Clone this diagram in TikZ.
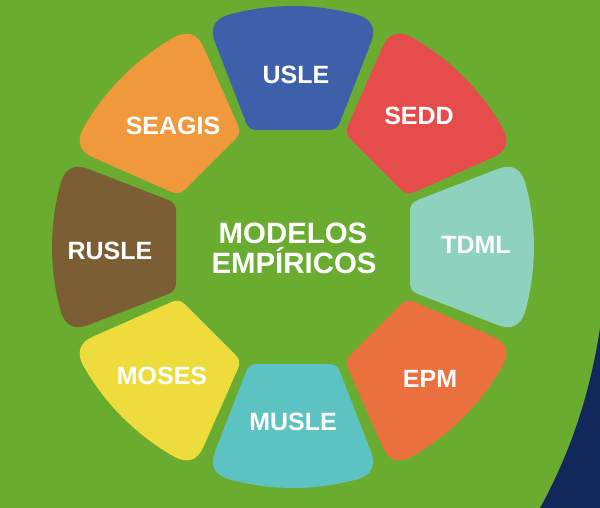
\documentclass[tikz,border=0pt]{standalone}
\usepackage{fontspec}
\setmainfont{Liberation Sans}
\begin{document}
\definecolor{bggreen}{RGB}{106,172,47}
\definecolor{navy}{RGB}{18,40,90}
\definecolor{cusle}{RGB}{62,95,170}
\definecolor{csedd}{RGB}{230,76,76}
\definecolor{ctdml}{RGB}{142,210,190}
\definecolor{cepm}{RGB}{234,112,62}
\definecolor{cmusle}{RGB}{92,194,194}
\definecolor{cmoses}{RGB}{238,220,60}
\definecolor{crusle}{RGB}{124,94,52}
\definecolor{cseagis}{RGB}{240,152,60}
\begin{tikzpicture}[x=0.5pt,y=-0.5pt,
  lbl/.style={text=white,inner sep=0pt,font=\fontsize{12.5}{13}\selectfont\bfseries},
  ttl/.style={text=white,inner sep=0pt,anchor=base,font=\fontsize{14.7}{15}\selectfont\bfseries}]
% page and background
\useasboundingbox (0,0) rectangle (600,508);
\fill[bggreen] (0,0) rectangle (600,508);
\fill[navy] (600,328) .. controls (591,388) and (573,448) .. (540,508) -- (600,508) -- cycle;
% one petal of the ring, pointing along the local x axis:
% straight inner edge, straight flanks, outer edge on a circle of radius 241,
% all four corners rounded
\newcommand{\petal}[2]{%
  \begin{scope}[shift={(293,247)},rotate=#1]
    \fill[#2] (117,0) -- (117,36) .. controls (117,41.3) and (119.5,45) .. (124.5,46.9)
      -- (204.6,78) .. controls (218.3,83.3) and (227.4,79) .. (232,65.1)
      arc[start angle=15.68,end angle=-15.68,radius=241]
      .. controls (227.4,-79) and (218.3,-83.3) .. (204.6,-78)
      -- (124.5,-46.9) .. controls (119.5,-45) and (117,-41.3) .. (117,-36) -- cycle;
  \end{scope}}
\petal{90}{cusle}
\petal{45}{csedd}
\petal{0}{ctdml}
\petal{-45}{cepm}
\petal{-90}{cmusle}
\petal{-135}{cmoses}
\petal{180}{crusle}
\petal{135}{cseagis}
% labels
\node[lbl] (usle)   at (296,75)  {USLE};
\node[lbl] (sedd)   at (419,116) {SEDD};
\node[lbl] (tdml)   at (476,245) {TDML};
\node[lbl] (epm)    at (430,379) {EPM};
\node[lbl] (musle)  at (293,422) {MUSLE};
\node[lbl] (moses)  at (162,376) {MOSES};
\node[lbl] (rusle)  at (110,251) {RUSLE};
\node[lbl] (seagis) at (173,126) {SEAGIS};
% centre title
\node[ttl] (title1) at (293,243) {MODELOS};
\node[ttl] (title2) at (294,273) {EMPÍRICOS};
\end{tikzpicture}
\end{document}
